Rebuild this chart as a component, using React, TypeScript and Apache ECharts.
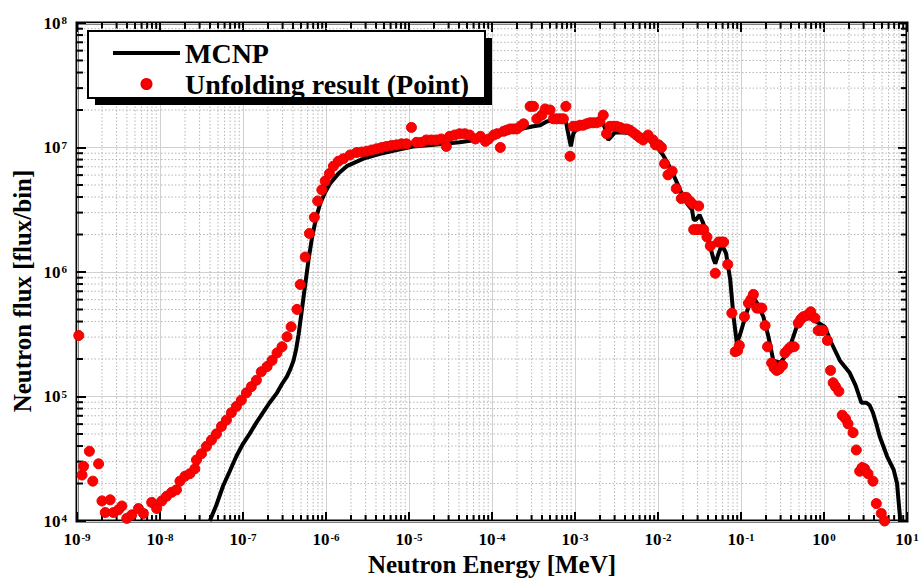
import React, { useEffect, useRef } from 'react';
import * as echarts from 'echarts';

// ---- MCNP reference spectrum (energy in MeV, flux per bin) ----
const mcnpEnergy = [
  3.98e-8, 4.79e-8, 5.75e-8, 6.92e-8, 8.32e-8, 1.0e-7, 1.2e-7, 1.45e-7, 1.74e-7, 2.09e-7,
  2.57e-7, 2.95e-7, 3.39e-7, 3.72e-7, 4.07e-7, 4.37e-7, 4.68e-7, 5.13e-7, 5.62e-7, 6.17e-7,
  6.76e-7, 7.41e-7, 7.94e-7, 8.51e-7, 9.77e-7, 1.12e-6, 1.41e-6, 1.78e-6, 2.24e-6, 2.82e-6,
  4.47e-6, 7.08e-6, 1.12e-5, 2.0e-5, 4.07e-5, 6.31e-5, 1.05e-4, 1.58e-4, 2.19e-4, 3.16e-4,
  3.8e-4, 4.57e-4, 5.5e-4, 6.61e-4, 7.59e-4, 8.13e-4, 8.91e-4, 9.55e-4, 1.1e-3, 1.32e-3,
  1.66e-3, 2.19e-3, 2.34e-3, 2.51e-3, 2.75e-3, 3.02e-3, 3.98e-3, 5.01e-3, 6.31e-3, 7.94e-3,
  9.55e-3, 1.15e-2, 1.32e-2, 1.51e-2, 1.74e-2, 2.0e-2, 2.29e-2, 2.57e-2, 2.69e-2, 2.88e-2,
  3.16e-2, 3.47e-2, 3.72e-2, 4.27e-2, 4.68e-2, 4.9e-2, 5.37e-2, 5.89e-2, 6.61e-2, 7.41e-2,
  8.13e-2, 8.91e-2, 9.77e-2, 1.07e-1, 1.23e-1, 1.41e-1, 1.62e-1, 1.86e-1, 2.14e-1, 2.45e-1,
  2.95e-1, 3.39e-1, 3.89e-1, 4.68e-1, 5.37e-1, 6.17e-1, 7.08e-1, 8.13e-1, 1.02, 1.23,
  1.55, 2.04, 2.4, 2.82, 3.24, 3.55, 3.89, 4.27, 4.68, 5.75,
  6.92, 7.59, 7.94, 8.32,
];
const mcnpFlux = [
  1.0e4, 1.35e4, 1.91e4, 2.51e4, 3.31e4, 4.17e4, 5.01e4, 6.17e4, 7.41e4, 8.91e4,
  1.07e5, 1.26e5, 1.45e5, 1.66e5, 1.95e5, 2.4e5, 3.16e5, 5.01e5, 7.94e5, 1.26e6,
  1.86e6, 2.51e6, 3.02e6, 3.55e6, 4.37e6, 5.13e6, 6.17e6, 7.08e6, 7.59e6, 8.13e6,
  8.91e6, 9.55e6, 1.02e7, 1.05e7, 1.1e7, 1.15e7, 1.23e7, 1.32e7, 1.41e7, 1.48e7,
  1.51e7, 1.62e7, 1.66e7, 1.7e7, 1.78e7, 1.38e7, 1.02e7, 1.29e7, 1.48e7, 1.51e7,
  1.55e7, 1.55e7, 1.38e7, 1.15e7, 1.23e7, 1.32e7, 1.32e7, 1.29e7, 1.23e7, 1.15e7,
  1.02e7, 8.71e6, 7.41e6, 6.17e6, 5.01e6, 3.98e6, 3.47e6, 3.16e6, 2.63e6, 2.63e6,
  2.88e6, 2.51e6, 2.19e6, 1.58e6, 1.26e6, 1.17e6, 1.41e6, 1.66e6, 1.41e6, 8.71e5,
  4.37e5, 2.69e5, 3.16e5, 3.89e5, 5.25e5, 6.31e5, 5.37e5, 4.37e5, 3.02e5, 1.95e5,
  1.86e5, 2.09e5, 2.51e5, 3.63e5, 4.17e5, 4.37e5, 4.17e5, 3.98e5, 3.63e5, 2.69e5,
  1.95e5, 1.55e5, 1.23e5, 8.91e4, 8.91e4, 8.51e4, 7.41e4, 6.03e4, 4.79e4, 3.31e4,
  2.57e4, 2.0e4, 1.41e4, 1.0e4,
];

// ---- Unfolding result (points) ----
const unfoldEnergy = [
  1.05e-9, 1.15e-9, 1.2e-9, 1.41e-9, 1.55e-9, 1.82e-9, 2.0e-9, 2.19e-9, 2.51e-9, 2.75e-9,
  3.16e-9, 3.47e-9, 3.98e-9, 4.57e-9, 5.5e-9, 6.31e-9, 7.94e-9, 9.12e-9, 1.05e-8, 1.2e-8,
  1.38e-8, 1.58e-8, 1.74e-8, 2.0e-8, 2.29e-8, 2.63e-8, 2.75e-8, 3.16e-8, 3.63e-8, 4.17e-8,
  4.79e-8, 5.5e-8, 6.31e-8, 7.24e-8, 8.32e-8, 9.55e-8, 1.1e-7, 1.26e-7, 1.45e-7, 1.66e-7,
  1.95e-7, 2.24e-7, 2.57e-7, 2.95e-7, 3.39e-7, 3.8e-7, 4.47e-7, 4.9e-7, 5.62e-7, 6.31e-7,
  7.24e-7, 7.94e-7, 8.91e-7, 9.77e-7, 1.1e-6, 1.23e-6, 1.41e-6, 1.62e-6, 1.95e-6, 2.34e-6,
  2.69e-6, 3.09e-6, 3.55e-6, 4.07e-6, 4.68e-6, 5.37e-6, 6.17e-6, 7.08e-6, 8.13e-6, 9.33e-6,
  1.07e-5, 1.23e-5, 1.41e-5, 1.62e-5, 1.86e-5, 2.14e-5, 2.45e-5, 2.82e-5, 3.09e-5, 3.55e-5,
  4.07e-5, 4.68e-5, 5.37e-5, 6.31e-5, 7.24e-5, 8.32e-5, 9.12e-5, 1.05e-4, 1.15e-4, 1.26e-4,
  1.38e-4, 1.51e-4, 1.66e-4, 1.82e-4, 2.0e-4, 2.19e-4, 2.4e-4, 2.88e-4, 3.16e-4, 3.47e-4,
  3.98e-4, 4.37e-4, 5.01e-4, 5.5e-4, 6.03e-4, 6.61e-4, 7.24e-4, 7.76e-4, 8.71e-4, 9.55e-4,
  1.05e-3, 1.15e-3, 1.26e-3, 1.38e-3, 1.51e-3, 1.66e-3, 1.82e-3, 2.0e-3, 2.19e-3, 2.4e-3,
  2.63e-3, 2.88e-3, 3.16e-3, 3.47e-3, 3.8e-3, 4.17e-3, 4.57e-3, 5.01e-3, 5.5e-3, 6.03e-3,
  6.61e-3, 7.59e-3, 8.71e-3, 9.33e-3, 1.02e-2, 1.1e-2, 1.2e-2, 1.32e-2, 1.48e-2, 1.66e-2,
  1.91e-2, 2.04e-2, 2.19e-2, 2.4e-2, 2.57e-2, 3.09e-2, 2.69e-2, 2.95e-2, 3.24e-2, 3.55e-2,
  3.89e-2, 4.27e-2, 4.9e-2, 5.37e-2, 5.75e-2, 6.17e-2, 6.92e-2, 7.76e-2, 8.51e-2, 9.12e-2,
  9.55e-2, 1.1e-1, 1.23e-1, 1.32e-1, 1.41e-1, 1.55e-1, 1.66e-1, 1.78e-1, 1.95e-1, 2.09e-1,
  2.34e-1, 2.51e-1, 2.69e-1, 2.88e-1, 3.16e-1, 3.39e-1, 3.72e-1, 3.98e-1, 4.37e-1, 4.9e-1,
  5.25e-1, 5.62e-1, 6.17e-1, 6.92e-1, 7.76e-1, 8.51e-1, 9.12e-1, 9.77e-1, 1.1, 1.2,
  1.29, 1.38, 1.51, 1.66, 1.82, 1.95, 2.24, 2.45, 2.69, 2.88,
  3.09, 3.39, 3.89, 4.27, 4.9, 5.37,
];
const unfoldFlux = [
  3.09e5, 2.34e4, 2.75e4, 3.63e4, 2.09e4, 2.88e4, 1.45e4, 1.17e4, 1.48e4, 1.17e4,
  1.23e4, 1.32e4, 1.05e4, 1.12e4, 1.26e4, 1.15e4, 1.41e4, 1.26e4, 1.45e4, 1.58e4,
  1.7e4, 1.78e4, 2.09e4, 2.29e4, 2.4e4, 2.63e4, 3.09e4, 3.47e4, 3.98e4, 4.47e4,
  5.01e4, 5.75e4, 6.46e4, 7.41e4, 8.32e4, 9.33e4, 1.07e5, 1.2e5, 1.35e5, 1.58e5,
  1.74e5, 1.95e5, 2.24e5, 2.51e5, 3.02e5, 3.63e5, 5.01e5, 7.94e5, 1.32e6, 2.04e6,
  2.75e6, 3.72e6, 4.57e6, 5.37e6, 6.17e6, 7.08e6, 7.76e6, 8.13e6, 8.71e6, 9.12e6,
  9.2e6, 9.33e6, 9.55e6, 9.77e6, 1.0e7, 1.02e7, 1.04e7, 1.05e7, 1.07e7, 1.07e7,
  1.45e7, 1.1e7, 1.1e7, 1.15e7, 1.15e7, 1.15e7, 1.17e7, 1.02e7, 1.23e7, 1.26e7,
  1.29e7, 1.29e7, 1.26e7, 1.17e7, 1.23e7, 1.12e7, 1.17e7, 1.26e7, 1.29e7, 1.0e7,
  1.35e7, 1.38e7, 1.41e7, 1.41e7, 1.41e7, 1.48e7, 1.55e7, 2.14e7, 2.14e7, 1.7e7,
  1.82e7, 2.04e7, 2.0e7, 1.7e7, 1.7e7, 1.7e7, 1.7e7, 2.14e7, 8.51e6, 1.48e7,
  1.48e7, 1.51e7, 1.51e7, 1.55e7, 1.58e7, 1.58e7, 1.58e7, 1.62e7, 1.82e7, 1.29e7,
  1.48e7, 1.48e7, 1.48e7, 1.45e7, 1.41e7, 1.41e7, 1.38e7, 1.32e7, 1.26e7, 1.2e7,
  1.15e7, 1.26e7, 1.15e7, 1.05e7, 1.05e7, 1.0e7, 7.41e6, 6.03e6, 6.46e6, 4.68e6,
  3.89e6, 3.98e6, 3.98e6, 3.72e6, 3.55e6, 3.39e6, 2.19e6, 2.19e6, 2.19e6, 2.19e6,
  1.91e6, 1.62e6, 9.77e5, 1.74e6, 1.74e6, 1.74e6, 1.15e6, 4.68e5, 2.29e5, 2.34e5,
  2.57e5, 4.37e5, 5.62e5, 6.03e5, 6.61e5, 5.13e5, 5.13e5, 5.13e5, 3.72e5, 2.51e5,
  1.86e5, 1.7e5, 1.62e5, 1.66e5, 1.78e5, 2.24e5, 2.4e5, 2.51e5, 2.51e5, 3.89e5,
  4.17e5, 4.37e5, 4.47e5, 4.79e5, 4.27e5, 3.39e5, 3.39e5, 3.39e5, 2.82e5, 1.62e5,
  1.29e5, 1.2e5, 1.1e5, 7.08e4, 6.61e4, 6.03e4, 5.13e4, 3.72e4, 2.51e4, 2.69e4,
  2.63e4, 2.4e4, 2.09e4, 1.38e4, 1.15e4, 1.0e4,
];

// ---- axis structure ----
const xRange = [1e-9, 10];
const yRange = [1e4, 1e8];
const xDecades = [-9, -8, -7, -6, -5, -4, -3, -2, -1, 0];
const yDecades = [4, 5, 6, 7];
const minorMultipliers = [2, 3, 4, 5, 6, 7, 8, 9];

const seriesNames = ['MCNP', 'Unfolding result (Point)'];
const SERIF = '"Liberation Serif", "Times New Roman", Times, serif';

export default function App() {
  const ref = useRef<HTMLDivElement>(null);

  useEffect(() => {
    if (!ref.current) return;
    const chart = echarts.init(ref.current, null, { renderer: 'svg' });

    const minorX: number[][] = [];
    xDecades.forEach((d) => minorMultipliers.forEach((m) => minorX.push([m * Math.pow(10, d), yRange[0]])));
    const minorY: number[][] = [];
    yDecades.forEach((d) => minorMultipliers.forEach((m) => minorY.push([xRange[0], m * Math.pow(10, d)])));

    const expLabel = (v: number) => {
      const e = Math.round(Math.log10(v));
      return `{b|10}{s|${e}}`;
    };
    const rich = {
      b: { fontFamily: SERIF, fontWeight: 'bold', fontSize: 17, lineHeight: 17, color: '#000' },
      s: { fontFamily: SERIF, fontWeight: 'bold', fontSize: 11, lineHeight: 11, color: '#000', verticalAlign: 'top', padding: [0, 0, 0, 1] },
    };

    const tickStyle = { show: true, inside: true, length: 9, lineStyle: { color: '#000', width: 2 } };
    const gridLine = { show: true, lineStyle: { color: '#d0d0d0', width: 1 } };
    const minorGridStyle = { stroke: '#b5b5b5', lineWidth: 1, lineDash: [1.5, 2] };
    const minorTickStyle = { stroke: '#000', lineWidth: 2 };

    const mcnpData = mcnpEnergy.map((e, i) => [e, mcnpFlux[i]]);
    const unfoldData = unfoldEnergy.map((e, i) => [e, unfoldFlux[i]]);

    const option: any = {
      animation: false,
      backgroundColor: '#ffffff',
      grid: {
        left: 77, right: 12, top: 23, bottom: 57, containLabel: false, outerBoundsMode: 'none',
        show: true, borderColor: '#000', borderWidth: 3, backgroundColor: 'transparent',
      },
      xAxis: [
        {
          type: 'log', logBase: 10, min: xRange[0], max: xRange[1], interval: 1, position: 'bottom',
          axisLine: { show: false }, axisTick: tickStyle,
          axisLabel: { margin: 10, formatter: expLabel, rich, showMinLabel: true, showMaxLabel: true },
          splitLine: gridLine,
          name: 'Neutron Energy [MeV]', nameLocation: 'middle', nameGap: 32, nameMoveOverlap: false,
          nameTextStyle: { fontFamily: SERIF, fontWeight: 'bold', fontSize: 25, lineHeight: 22, color: '#000' },
        },
        {
          type: 'log', logBase: 10, min: xRange[0], max: xRange[1], interval: 1, position: 'top',
          axisLine: { show: false }, axisTick: tickStyle, axisLabel: { show: false }, splitLine: { show: false },
        },
      ],
      yAxis: [
        {
          type: 'log', logBase: 10, min: yRange[0], max: yRange[1], interval: 1, position: 'left',
          axisLine: { show: false }, axisTick: tickStyle,
          axisLabel: { margin: 10, formatter: expLabel, rich, showMinLabel: true, showMaxLabel: true },
          splitLine: gridLine,
          name: 'Neutron flux [flux/bin]', nameLocation: 'middle', nameGap: 42, nameMoveOverlap: false,
          nameTextStyle: { fontFamily: SERIF, fontWeight: 'bold', fontSize: 25, color: '#000', padding: [0, 38, 0, 0] },
        },
        {
          type: 'log', logBase: 10, min: yRange[0], max: yRange[1], interval: 1, position: 'right',
          axisLine: { show: false }, axisTick: tickStyle, axisLabel: { show: false }, splitLine: { show: false },
        },
      ],
      legend: {
        data: [
          { name: seriesNames[0], icon: 'path://M0,0 L67,0 L67,4 L0,4 Z', itemStyle: { color: '#000' } },
          { name: seriesNames[1], icon: 'circle' },
        ],
        orient: 'vertical', left: 113, top: 39, padding: 0,
        itemWidth: 67, itemHeight: 10, itemGap: 3, z: 100, selectedMode: false,
        textStyle: { fontFamily: SERIF, fontWeight: 'bold', fontSize: 28, color: '#000' },
      },
      graphic: [
        { type: 'rect', shape: { x: 95, y: 38, width: 397, height: 67 }, style: { fill: '#000' }, z: 50 },
        { type: 'rect', shape: { x: 88, y: 31, width: 397, height: 67 }, style: { fill: '#fff', stroke: '#000', lineWidth: 2 }, z: 51 },
      ],
      series: [
        {
          name: 'minorX', type: 'custom', xAxisIndex: 0, yAxisIndex: 0, silent: true, z: 1,
          data: minorX,
          renderItem: (_p: any, api: any) => {
            const v = api.value(0);
            const b = api.coord([v, yRange[0]]);
            const t = api.coord([v, yRange[1]]);
            return {
              type: 'group',
              children: [
                { type: 'line', shape: { x1: b[0], y1: b[1], x2: t[0], y2: t[1] }, style: minorGridStyle },
                { type: 'line', shape: { x1: b[0], y1: b[1], x2: b[0], y2: b[1] - 6 }, style: minorTickStyle },
                { type: 'line', shape: { x1: t[0], y1: t[1], x2: t[0], y2: t[1] + 6 }, style: minorTickStyle },
              ],
            };
          },
        },
        {
          name: 'minorY', type: 'custom', xAxisIndex: 0, yAxisIndex: 0, silent: true, z: 1,
          data: minorY,
          renderItem: (_p: any, api: any) => {
            const v = api.value(1);
            const l = api.coord([xRange[0], v]);
            const r = api.coord([xRange[1], v]);
            return {
              type: 'group',
              children: [
                { type: 'line', shape: { x1: l[0], y1: l[1], x2: r[0], y2: r[1] }, style: minorGridStyle },
                { type: 'line', shape: { x1: l[0], y1: l[1], x2: l[0] + 6, y2: l[1] }, style: minorTickStyle },
                { type: 'line', shape: { x1: r[0], y1: r[1], x2: r[0] - 6, y2: r[1] }, style: minorTickStyle },
              ],
            };
          },
        },
        {
          name: seriesNames[0], type: 'line', data: mcnpData, symbol: 'none', showSymbol: false, z: 3,
          lineStyle: { color: '#000', width: 4 }, itemStyle: { color: '#000' },
        },
        {
          name: seriesNames[1], type: 'scatter', data: unfoldData, symbol: 'circle', symbolSize: 10, z: 4,
          itemStyle: { color: '#ff0000', opacity: 1, borderColor: '#e60000', borderWidth: 1 },
        },
      ],
    };

    chart.setOption(option);
    return () => chart.dispose();
  }, []);

  return <div ref={ref} style={{ position: 'fixed', left: 0, top: 0, width: 919, height: 578 }} />;
}
